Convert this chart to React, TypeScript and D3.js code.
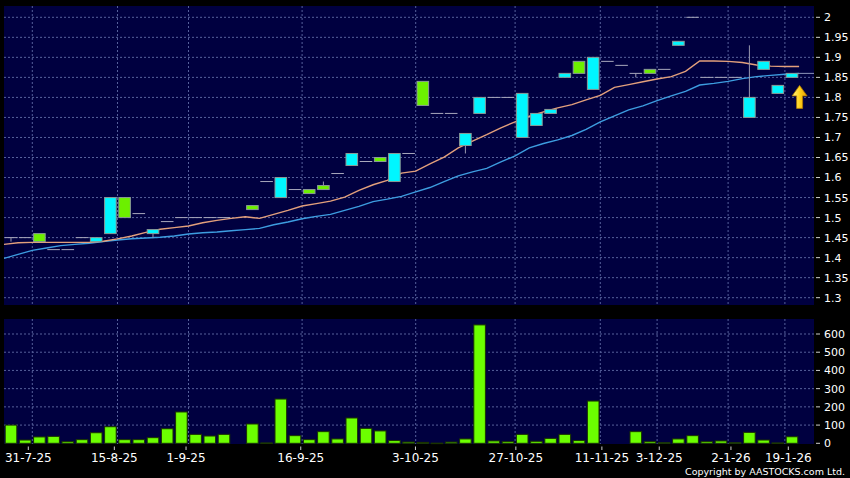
import React, { useEffect } from "react";
import * as d3 from "d3";

// ---- data (one entry per trading slot, 56 slots; null = no data) ----
const opens: (number | null)[] = [1.45,1.45,1.46,1.42,1.42,1.45,1.44,1.46,1.55,1.51,1.46,1.49,1.50,1.50,1.50,1.50,null,1.53,1.59,1.55,1.57,1.57,1.58,1.61,1.63,1.64,1.65,1.59,1.66,1.84,1.76,1.76,1.68,1.76,1.80,1.80,1.70,1.73,1.76,1.85,1.89,1.82,1.89,1.88,1.86,1.87,1.87,1.93,2.00,1.85,1.85,1.85,1.75,1.87,1.81,1.85];
const highs: (number | null)[] = [1.45,1.45,1.46,1.42,1.42,1.45,1.45,1.55,1.55,1.51,1.47,1.49,1.50,1.50,1.50,1.50,null,1.53,1.59,1.60,1.57,1.57,1.59,1.61,1.66,1.64,1.65,1.66,1.66,1.84,1.76,1.76,1.71,1.80,1.80,1.80,1.81,1.76,1.77,1.86,1.89,1.90,1.89,1.88,1.86,1.87,1.87,1.94,2.00,1.85,1.85,1.85,1.93,1.89,1.83,1.86];
const lows: (number | null)[] = [1.44,1.45,1.44,1.42,1.42,1.45,1.44,1.46,1.50,1.51,1.45,1.49,1.50,1.50,1.50,1.50,null,1.52,1.59,1.55,1.57,1.56,1.57,1.61,1.63,1.64,1.64,1.59,1.66,1.78,1.76,1.76,1.66,1.76,1.80,1.80,1.70,1.73,1.76,1.85,1.86,1.82,1.89,1.88,1.85,1.86,1.87,1.93,2.00,1.85,1.85,1.85,1.75,1.87,1.81,1.85];
const closes: (number | null)[] = [1.45,1.45,1.44,1.42,1.42,1.45,1.45,1.55,1.50,1.51,1.47,1.49,1.50,1.50,1.50,1.50,null,1.52,1.59,1.60,1.57,1.56,1.57,1.61,1.66,1.64,1.64,1.66,1.66,1.78,1.76,1.76,1.71,1.80,1.80,1.80,1.81,1.76,1.77,1.86,1.86,1.90,1.89,1.88,1.86,1.86,1.87,1.94,2.00,1.85,1.85,1.85,1.80,1.89,1.83,1.86];
const volumes: (number | null)[] = [100,18,35,38,9,20,58,91,20,20,31,80,172,49,40,49,null,106,2,243,42,20,64,24,139,82,68,15,7,5,1,7,24,650,13,9,49,11,27,49,15,232,0,0,64,9,3,24,42,9,13,3,60,18,2,36];

// moving averages: first value belongs to the session before the first slot
const maShort: number[] = [1.433,1.437,1.438,1.438,1.438,1.438,1.438,1.441,1.447,1.454,1.463,1.471,1.475,1.479,1.487,1.493,1.498,1.502,1.498,1.508,1.518,1.529,1.535,1.541,1.551,1.568,1.582,1.593,1.611,1.616,1.634,1.651,1.674,1.691,1.707,1.724,1.739,1.753,1.764,1.774,1.782,1.794,1.805,1.825,1.832,1.839,1.846,1.852,1.865,1.891,1.891,1.890,1.887,1.881,1.878,1.877,1.877];
const maLong: number[] = [1.398,1.408,1.418,1.424,1.430,1.433,1.436,1.440,1.444,1.447,1.449,1.451,1.454,1.459,1.462,1.464,1.467,1.470,1.473,1.482,1.489,1.497,1.503,1.508,1.518,1.528,1.540,1.546,1.553,1.564,1.575,1.590,1.604,1.614,1.623,1.639,1.654,1.674,1.685,1.694,1.705,1.720,1.739,1.754,1.769,1.779,1.792,1.804,1.815,1.831,1.835,1.840,1.847,1.852,1.855,1.858,1.860];

const tickSlots: number[] = [2, 8, 13, 21, 29, 36, 42, 46, 51, 55];
const tickLabels: string[] = ["31-7-25","15-8-25","1-9-25","16-9-25","3-10-25","27-10-25","11-11-25","3-12-25","2-1-26","19-1-26"];
const priceTicks: number[] = [1.3,1.35,1.4,1.45,1.5,1.55,1.6,1.65,1.7,1.75,1.8,1.85,1.9,1.95,2];
const volTicks: number[] = [0,100,200,300,400,500,600];

const W = 850, H = 478;
const PL = 4, PR = 814;
const PT = 6, PB = 305;
const VT = 319, VB = 444;
const BG = "#000040";
const GRID = "#56609a";
const FONT = "DejaVu Sans";

export default function App() {
  useEffect(() => {
    document.body.style.margin = "0";
    document.body.style.background = "#000";
  }, []);

  const N = 57;
  const step = 14.2;
  const x = d3.scaleLinear().domain([0, N]).range([4.7, 4.7 + N * step]);
  const bw = step * 0.887;
  const tickX = d3.scaleLinear().domain([tickSlots[0], tickSlots[tickSlots.length - 1]]).range([28.3, 788.3]);
  const y = d3.scaleLinear().domain([1.3, 2.0]).range([297.7, 17.3]);
  const yv = d3.scaleLinear().domain([0, 600]).range([443.3, 334]);

  const lineGen = d3.line<number>().x((_, k) => x(k) - 0.8).y((d) => y(d));

  const lastIdx = closes.length - 1;
  const lastClose = closes[lastIdx] as number;
  const arrowCx = x(lastIdx + 1) - 0.3;
  const arrowTop = y(lastClose) + 12;
  const arrowPath = `M${arrowCx},${arrowTop} L${arrowCx + 7.5},${arrowTop + 10.5} L${arrowCx + 3},${arrowTop + 10.5} L${arrowCx + 3},${arrowTop + 23} L${arrowCx - 3},${arrowTop + 23} L${arrowCx - 3},${arrowTop + 10.5} L${arrowCx - 7.5},${arrowTop + 10.5} Z`;

  return (
    <svg width={W} height={H} style={{ display: "block", position: "absolute", left: 0, top: 0, background: "#000" }} fontFamily={FONT}>
      <defs>
        <clipPath id="pclip"><rect x={PL} y={PT} width={PR - PL} height={PB - PT} /></clipPath>
        <linearGradient id="arrowGrad" x1="0" x2="1" y1="0" y2="0">
          <stop offset="0" stopColor="#fff48a" />
          <stop offset="0.5" stopColor="#ffd21a" />
          <stop offset="1" stopColor="#e89a00" />
        </linearGradient>
      </defs>
      <rect x={0} y={0} width={W} height={H} fill="#000" />
      {/* price panel */}
      <rect x={PL} y={PT} width={PR - PL} height={PB - PT} fill={BG} />
      {priceTicks.map((p) => (
        <line key={"pg" + p} x1={PL} x2={PR} y1={y(p)} y2={y(p)} stroke={GRID} strokeDasharray="2,2" strokeWidth={1} />
      ))}
      {tickSlots.map((s) => (
        <line key={"pv" + s} x1={x(s) - 0.8} x2={x(s) - 0.8} y1={PT} y2={PB} stroke={GRID} strokeDasharray="2,2" strokeWidth={1} />
      ))}
      <g clipPath="url(#pclip)">
        <path d={lineGen(maLong) || ""} fill="none" stroke="#3d9de0" strokeWidth={1.4} />
        <path d={lineGen(maShort) || ""} fill="none" stroke="#e3a07c" strokeWidth={1.4} />
        <line x1={x(lastIdx) + bw} x2={PR} y1={y(lastClose)} y2={y(lastClose)} stroke="#8c94b8" strokeWidth={1} />
        {closes.map((c, i) => {
          const o = opens[i], h = highs[i], l = lows[i];
          if (c === null || o === null || h === null || l === null) return null;
          const x0 = x(i);
          const cx = x0 + bw / 2;
          const parts: React.ReactNode[] = [];
          if (h !== l) {
            parts.push(<line key="w" x1={cx} x2={cx} y1={y(h)} y2={y(l)} stroke="#9a9aae" strokeWidth={1} />);
          }
          if (o === c) {
            parts.push(<line key="d" x1={x0} x2={x0 + bw} y1={y(c)} y2={y(c)} stroke="#a8a8bc" strokeWidth={1} />);
          } else {
            const top = y(Math.max(o, c));
            const bot = y(Math.min(o, c));
            parts.push(
              <rect key="b" x={x0 + 0.5} y={top} width={bw - 1} height={bot - top}
                fill={c > o ? "#00f6ff" : "#6cf000"} stroke="#8a9a96" strokeWidth={1} />
            );
          }
          return <g key={"c" + i}>{parts}</g>;
        })}
        <path d={arrowPath} fill="url(#arrowGrad)" stroke="#b07800" strokeWidth={0.8} />
      </g>
      {priceTicks.map((p) => (
        <g key={"pl" + p}>
          <line x1={816} x2={820} y1={y(p)} y2={y(p)} stroke="#cfcfcf" strokeWidth={1} />
          <text x={824} y={y(p)} dy="0.36em" fill="#fff" fontSize={11}>{String(p)}</text>
        </g>
      ))}

      {/* volume panel */}
      <rect x={PL} y={VT} width={PR - PL} height={VB - VT} fill={BG} />
      {volTicks.filter((v) => v > 0).map((v) => (
        <line key={"vg" + v} x1={PL} x2={PR} y1={yv(v)} y2={yv(v)} stroke={GRID} strokeDasharray="2,2" strokeWidth={1} />
      ))}
      {tickSlots.map((s) => (
        <line key={"vv" + s} x1={x(s) - 0.8} x2={x(s) - 0.8} y1={VT} y2={VB} stroke={GRID} strokeDasharray="2,2" strokeWidth={1} />
      ))}
      {volumes.map((v, i) => {
        if (v === null || v <= 0) return null;
        const top = yv(v);
        return (
          <rect key={"v" + i} x={x(i) + 0.5} y={top} width={bw - 1} height={Math.max(0.5, yv(0) - top)}
            fill="#6cff00" stroke="#1a3300" strokeWidth={1} />
        );
      })}
      {volTicks.map((v) => (
        <g key={"vl" + v}>
          <line x1={816} x2={820} y1={yv(v)} y2={yv(v)} stroke="#cfcfcf" strokeWidth={1} />
          <text x={824} y={yv(v)} dy="0.36em" fill="#fff" fontSize={11}>{String(v)}</text>
        </g>
      ))}

      {/* x axis */}
      {tickSlots.map((s, k) => (
        <g key={"xt" + s}>
          <line x1={tickX(s)} x2={tickX(s)} y1={446.5} y2={450} stroke="#cfcfcf" strokeWidth={1} />
          <text x={tickX(s)} y={462} textAnchor="middle" fill="#fff" fontSize={12}>{tickLabels[k]}</text>
        </g>
      ))}
      <text x={845} y={475} textAnchor="end" fill="#fff" fontSize={9.5}>Copyright by AASTOCKS.com Ltd.</text>
    </svg>
  );
}
